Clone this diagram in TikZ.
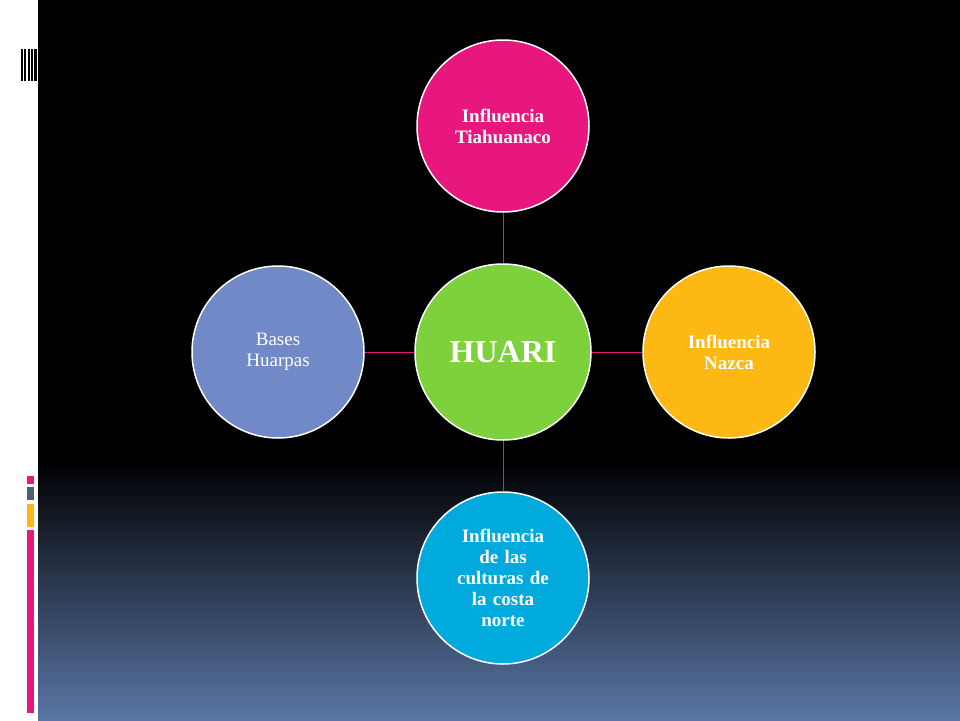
\documentclass[tikz,border=0pt]{standalone}
\usepackage{fontspec}
\setmainfont{Liberation Serif}
\begin{document}
\begin{tikzpicture}[x=1pt,y=-1pt,
  circ/.style={circle,draw=white,line width=1.5pt,minimum size=172pt,inner sep=0pt,align=center,text=white,font=\fontsize{19}{21}\selectfont\bfseries,text width=130pt},
  link/.style={draw={rgb,255:red,232;green,23;blue,125},line width=1pt}]
\definecolor{cpink}{RGB}{232,23,125}
\definecolor{cgreen}{RGB}{125,209,60}
\definecolor{corange}{RGB}{253,184,19}
\definecolor{ccyan}{RGB}{0,170,221}
\definecolor{cblue}{RGB}{113,137,198}
\definecolor{cbot}{RGB}{90,118,166}
\definecolor{cgray}{RGB}{80,95,110}
\useasboundingbox (0,0) rectangle (960,720);
\fill[white] (0,0) rectangle (960,720);
\fill[black] (38,0) rectangle (960,460);
\shade[top color=black,bottom color=cbot] (38,460) rectangle (960,720);
\foreach \x/\w in {21/1.5,24/2,27.5/2.5,31/2,34/3}{\fill[black] (\x,49) rectangle (\x+\w,81);}
\fill[cpink] (27,476) rectangle (34,484);
\fill[cgray] (27,487) rectangle (34,500);
\fill[corange] (27,504) rectangle (34,527);
\fill[cpink] (27,530) rectangle (34,713);
\node[circ,fill=cgreen,minimum size=176pt,font=\fontsize{32}{34}\selectfont\bfseries] (c) at (503,352) {HUARI};
\node[circ,fill=cpink] (t) at (503,126) {Influencia\\Tiahuanaco};
\node[circ,fill=corange] (r) at (729,352) {Influencia\\Nazca};
\node[circ,fill=ccyan] (b) at (503,578) {Influencia\\de las\\culturas de\\la costa\\norte};
\node[circ,fill=cblue,font=\fontsize{19}{21}\selectfont] (l) at (278,352) {Bases\\Huarpas};
\draw[link] (c) -- (t);
\draw[link] (c) -- (r);
\draw[link] (c) -- (b);
\draw[link] (c) -- (l);
\end{tikzpicture}
\end{document}
